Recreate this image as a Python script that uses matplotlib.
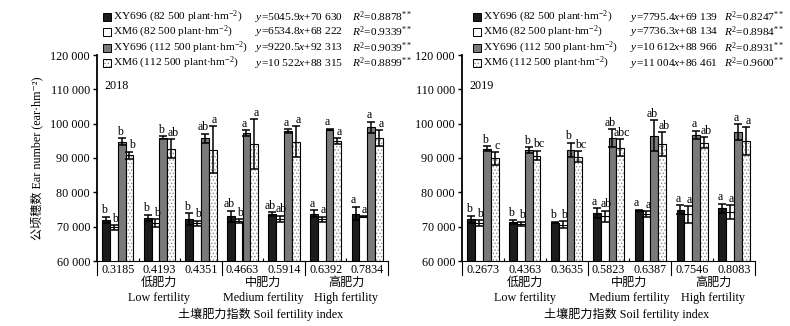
import numpy as np
import matplotlib.pyplot as plt
from matplotlib.patches import Rectangle
from matplotlib.transforms import blended_transform_factory

plt.rcParams['font.family'] = ['Liberation Serif', 'Noto Sans CJK SC', 'DejaVu Sans']
plt.rcParams['mathtext.fontset'] = 'custom'
plt.rcParams['mathtext.rm'] = 'Liberation Serif'
plt.rcParams['mathtext.it'] = 'Liberation Serif:italic'
plt.rcParams['hatch.linewidth'] = 0.6
plt.rcParams['font.size'] = 8.7

# soil fertility index (x categories)
sfi_2018 = ['0.3185', '0.4193', '0.4351', '0.4663', '0.5914', '0.6392', '0.7834']
sfi_2019 = ['0.2673', '0.4363', '0.3635', '0.5823', '0.6387', '0.7546', '0.8083']
groups = ['低肥力\nLow fertility', '中肥力\nMedium fertility', '高肥力\nHigh fertility']
group_members = [[0, 1, 2], [3, 4], [5, 6]]

series = ['XY696 (82 500 plant·hm$^{-2}$)', 'XM6 (82 500 plant·hm$^{-2}$)',
          'XY696 (112 500 plant·hm$^{-2}$)', 'XM6 (112 500 plant·hm$^{-2}$)']

# 2018 ear number (ear/hm2) and error
mean_2018 = [
    [72000, 72600, 72200, 73100, 73600, 73800, 73800],
    [69800, 71000, 71000, 71600, 72300, 72100, 72900],
    [94800, 95900, 95800, 97200, 97900, 98300, 98900],
    [90800, 92700, 92400, 94100, 94800, 94900, 95800],
]
err_2018 = [
    [900, 900, 1700, 1600, 600, 1000, 2000],
    [700, 1200, 700, 600, 900, 800, 200],
    [1000, 500, 1300, 900, 500, 200, 1700],
    [1000, 2700, 6800, 7200, 4400, 800, 2300],
]
sig_2018 = [
    ['b', 'b', 'b', 'ab', 'ab', 'a', 'a'],
    ['b', 'b', 'b', 'b', 'ab', 'a', 'a'],
    ['b', 'b', 'ab', 'a', 'a', 'a', 'a'],
    ['b', 'ab', 'a', 'a', 'a', 'a', 'a'],
]
eq_2018 = ['$y$=5045.9$x$+70 630', '$y$=6534.8$x$+68 222',
           '$y$=9220.5$x$+92 313', '$y$=10 522$x$+88 315']
r2_2018 = ['0.8878', '0.9339', '0.9039', '0.8899']

# 2019
mean_2019 = [
    [72200, 71400, 71200, 73900, 74800, 75000, 75300],
    [71000, 70800, 70600, 73000, 73700, 73600, 74200],
    [92700, 92300, 92400, 95800, 96500, 96800, 97500],
    [89900, 90700, 90400, 93000, 94100, 94400, 95000],
]
err_2019 = [
    [1000, 600, 200, 1500, 200, 1300, 1400],
    [800, 700, 1000, 1600, 800, 2400, 2000],
    [700, 900, 2000, 2600, 4500, 1200, 2400],
    [1800, 1400, 1600, 2500, 3400, 1600, 4000],
]
sig_2019 = [
    ['b', 'b', 'b', 'a', 'a', 'a', 'a'],
    ['b', 'b', 'b', 'ab', 'a', 'a', 'a'],
    ['b', 'b', 'b', 'ab', 'ab', 'a', 'a'],
    ['c', 'bc', 'bc', 'abc', 'ab', 'ab', 'a'],
]
eq_2019 = ['$y$=7795.4$x$+69 139', '$y$=7736.3$x$+68 134',
           '$y$=10 612$x$+88 966', '$y$=11 004$x$+86 461']
r2_2019 = ['0.8247', '0.8984', '0.8931', '0.9600']

yticks = [60000, 70000, 80000, 90000, 100000, 110000, 120000]
ytick_labels = ['60 000', '70 000', '80 000', '90 000', '100 000', '110 000', '120 000']

faces = ['#1c1c1c', 'white', '#7a7a7a', 'white']
hatches = [None, None, None, '.....']
# small sideways nudges (points) for letters that sit next to each other
nudge = [-1.5, 1.0, -1.5, 1.5]

W, H = 790, 326
fig = plt.figure(figsize=(7.9, 3.26), dpi=100)


def fx(p):
    return p / W


def fy(p):
    return 1 - p / H


def draw_panel(ax, means, errs, sigs, ticklabels, year, title_x):
    x = np.arange(len(ticklabels))
    w = 0.1875
    for i in range(4):
        xi = x + (i - 1.5) * w
        if hatches[i]:
            ax.bar(xi, means[i], w, color='white', hatch=hatches[i],
                   edgecolor='#8c8c8c', linewidth=0)
            ax.bar(xi, means[i], w, fill=False, edgecolor='black', linewidth=0.8)
        else:
            ax.bar(xi, means[i], w, color=faces[i], edgecolor='black', linewidth=0.8)
        ax.errorbar(xi, means[i], yerr=errs[i], fmt='none', ecolor='black',
                    elinewidth=1.1, capsize=2.8, capthick=1.1)
        for xx, m, e, s in zip(xi, means[i], errs[i], sigs[i]):
            ax.annotate(s, (xx, m + e), xytext=(nudge[i], 0.3), textcoords='offset points',
                        ha='center', va='bottom', fontsize=8.6)

    ax.set_xlim(-0.5, len(ticklabels) - 0.5)
    ax.set_ylim(60000, 120000)
    ax.set_yticks(yticks, ytick_labels)
    ax.tick_params(axis='y', direction='out', length=3, width=1, pad=2)
    ax.set_xticks(x, ticklabels)
    ax.tick_params(axis='x', length=0, pad=2)
    ax.set_xticks([0.5, 1.5, 3.5, 5.5], minor=True)
    ax.tick_params(axis='x', which='minor', direction='in', length=2, width=0.8)
    for s in ['top', 'right']:
        ax.spines[s].set_visible(False)
    ax.spines['left'].set_linewidth(1.3)
    ax.spines['bottom'].set_linewidth(0.8)

    trans = blended_transform_factory(ax.transData, ax.transAxes)
    for xb in [-0.5, 2.5, 4.5, 6.5]:
        ax.plot([xb, xb], [0, -0.068], transform=trans, color='black',
                lw=0.8, clip_on=False)
    for g, members in zip(groups, group_members):
        cx = np.mean(members)
        cn, en = g.split('\n')
        ax.text(cx, -0.107, cn, transform=trans, ha='center', va='center')
        ax.text(cx, -0.18, en, transform=trans, ha='center', va='center')
    ax.text(title_x, -0.257, '土壤肥力指数 Soil fertility index', transform=trans,
            ha='center', va='center')
    ax.text(0.024, 0.85, year, transform=ax.transAxes, ha='left', va='center')


ax1 = fig.add_axes([fx(97), fy(261), fx(291), 206 / H])
ax2 = fig.add_axes([fx(462), fy(261), fx(293), 206 / H])
draw_panel(ax1, mean_2018, err_2018, sig_2018, sfi_2018, '2018', 3.44)
draw_panel(ax2, mean_2019, err_2019, sig_2019, sfi_2019, '2019', 3.44)
ax1.set_ylabel('公顷穗数 Ear number (ear·hm⁻²)')
ax1.yaxis.set_label_coords(-0.186, 0.5)

# legend blocks with regression equations
rows_y = [17, 32, 48, 63]
leg_fs = 8.2
for mx, tx, ex, rx, eqs, r2s in [(103, 113, 255, 352, eq_2018, r2_2018),
                                 (473, 483, 630, 724, eq_2019, r2_2019)]:
    for i, ry in enumerate(rows_y):
        if hatches[i]:
            fig.patches.append(Rectangle((fx(mx), fy(ry + 4)), fx(8), 8 / H,
                                         facecolor='white', hatch=hatches[i],
                                         edgecolor='#8c8c8c', linewidth=0,
                                         transform=fig.transFigure))
            fig.patches.append(Rectangle((fx(mx), fy(ry + 4)), fx(8), 8 / H,
                                         fill=False, edgecolor='black', linewidth=0.7,
                                         transform=fig.transFigure))
        else:
            fig.patches.append(Rectangle((fx(mx), fy(ry + 4)), fx(8), 8 / H,
                                         facecolor=faces[i], edgecolor='black',
                                         linewidth=0.7, transform=fig.transFigure))
        fig.text(fx(tx), fy(ry), series[i], ha='left', va='center', fontsize=leg_fs)
        fig.text(fx(ex), fy(ry), eqs[i], ha='left', va='center', fontsize=leg_fs)
        fig.text(fx(rx), fy(ry), '$R^2$=' + r2s[i] + '$^{**}$', ha='left', va='center',
                 fontsize=leg_fs)

fig.savefig('out.png', dpi=100)
